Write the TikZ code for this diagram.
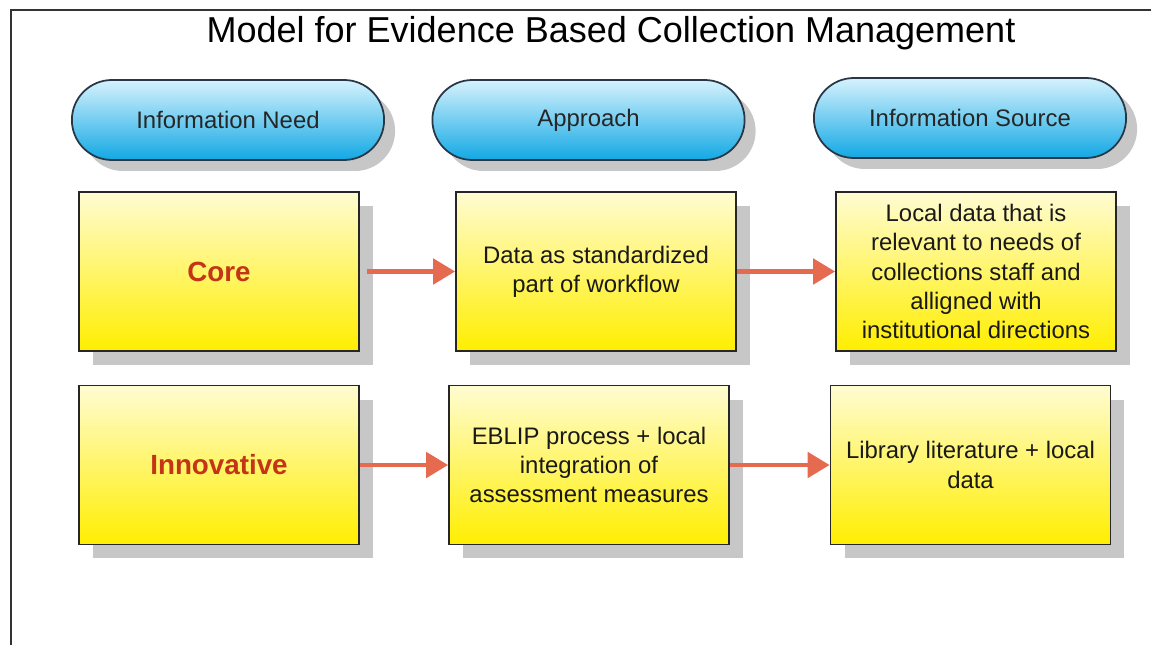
\documentclass[tikz,border=0pt]{standalone}
\usepackage{fontspec}
\setmainfont{Liberation Sans}
\usetikzlibrary{%
  arrows.meta,%
  shapes.misc,% wg. rounded rectangle
  shadows,%
  positioning% wg. " of "
}
\definecolor{pilltop}{RGB}{214,242,253}
\definecolor{pillbot}{RGB}{18,168,228}
\definecolor{pillrim}{RGB}{40,55,70}
\definecolor{boxtop}{RGB}{255,252,210}
\definecolor{boxbot}{RGB}{255,238,0}
\definecolor{arrowred}{RGB}{230,106,80}
\definecolor{levelred}{RGB}{196,52,22}
\tikzset{
  heading/.style={rounded rectangle, draw=pillrim, line width=1pt,
    top color=pilltop, bottom color=pillbot,
    minimum width=6.48cm, minimum height=1.6cm,
    font=\fontsize{13.6}{16}\selectfont, text=black!85,
    drop shadow={shadow xshift=0.22cm, shadow yshift=-0.22cm, fill=black, opacity=0.22}},
  stage/.style={rectangle, draw=black!85, line width=1pt,
    top color=boxtop, bottom color=boxbot,
    minimum width=5.6cm, minimum height=3.18cm, align=center,
    font=\fontsize{13.6}{16.7}\selectfont, text=black!90,
    drop shadow={shadow xshift=0.28cm, shadow yshift=-0.28cm, fill=black!22, opacity=1}},
  level/.style={font=\fontsize{15.8}{18}\selectfont\bfseries, text=levelred},
  flow/.style={arrowred, line width=2.8pt, -{Triangle[length=0.44cm,width=0.5cm]}}
}
\begin{document}
\begin{tikzpicture}[x=0.02cm, y=-0.02cm]
\useasboundingbox (0,0) rectangle (1151,645);
\fill[white] (0,0) rectangle (1151,645);

% frame and title
\draw[line width=1.2pt, black!80] (11,645) -- (11,10) -- (1151,10);
\node[font=\fontsize{20.5}{24}\selectfont] (title) at (611,33) {Model for Evidence Based Collection Management};

% column headings
\node[heading] (need) at (228,120) {Information Need};
\node[heading] (approach) at (588.5,120) {Approach};
\node[heading] (source) at (970,118) {Information Source};

% core row
\node[stage, level] (core) at (219,271.5) {Core};
\node[stage] (standard) at (596,271.5) {Data as standardized\\part of workflow};
\node[stage] (local) at (976,271.5) {Local data that is\\relevant to needs of\\collections staff and\\alligned with\\institutional directions};

% innovative row
\node[stage, level] (innov) at (219,465) {Innovative};
\node[stage] (eblip) at (589,465) {EBLIP process + local\\integration of\\assessment measures};
\node[stage] (liter) at (970.5,465) {Library literature + local\\data};

% arrows
\draw[flow, shorten <=0.14cm] (core.east) -- (standard.west);
\draw[flow] (standard.east) -- (local.west);
\draw[flow] (innov.east) -- (eblip.west);
\draw[flow] (eblip.east) -- (liter.west);
\end{tikzpicture}
\end{document}
